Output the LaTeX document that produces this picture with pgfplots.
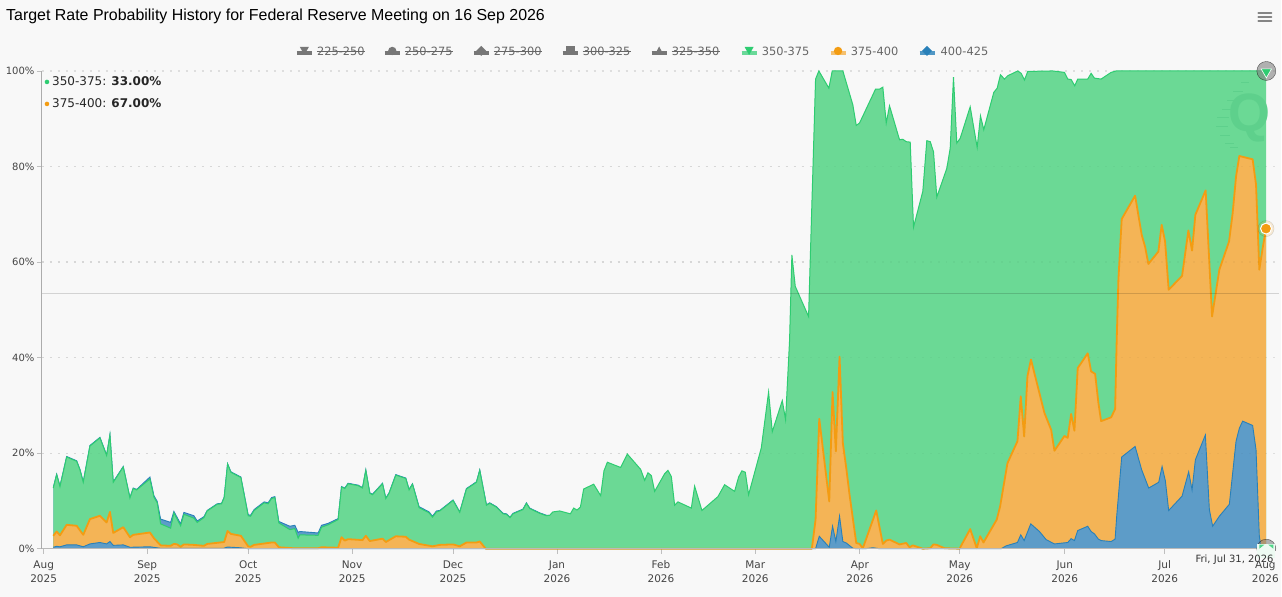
\documentclass[border=0pt]{standalone}
\usepackage{pgfplots}
\usepackage{pgfplotstable}
\usepackage{fontspec}
\pgfplotsset{compat=1.18}
\setmainfont{DejaVu Sans}
\newfontfamily\titlefont{Liberation Sans}
\definecolor{bgc}{HTML}{F8F8F8}
\definecolor{gfill}{RGB}{107,217,149}
\definecolor{gline}{HTML}{2ECC71}
\definecolor{gdark}{RGB}{94,208,140}
\definecolor{ofill}{RGB}{244,180,86}
\definecolor{oline}{HTML}{F39C12}
\definecolor{bfill}{RGB}{93,156,200}
\definecolor{bline}{HTML}{2980B9}
\definecolor{txt}{HTML}{444444}
\definecolor{leg}{HTML}{666666}
\definecolor{dis}{HTML}{777777}
\newcommand{\tl}[2]{\rule{0pt}{9pt}#1\\#2}

% top of the stack (thin hidden band above the green area)
\pgfplotstableread{
x y
53.3 12.8
56.7 15.6
60 13.1
66.7 19.3
76.7 18.4
80 16.6
83.3 14.0
90 21.6
100 23.3
106.7 19.6
110 23.9
113.3 14.0
123.3 17.2
130 10.7
133.3 12.7
136.7 12.4
150 15.0
154 11.1
157.3 9.9
160.7 6.2
170.7 5.5
174 7.8
180.7 5.2
184 7.6
194 6.9
197.3 5.8
204 6.7
207.3 8.0
217.3 9.4
221.7 9.5
224.3 10.8
227.7 17.8
231 16.1
241 15.0
248.3 7.1
250.7 7.0
254.3 8.2
264.3 9.8
268.3 9.6
271.7 10.7
275 10.9
279 5.7
290 4.7
295 4.9
298.3 3.4
300 3.6
318.3 3.3
321.7 4.9
328.3 5.3
338.3 6.3
341.7 13.0
345 12.7
348.3 13.7
358.3 13.3
362.7 12.8
366 16.5
370 11.7
372.7 11.4
382.7 13.7
386 10.6
389.3 11.7
396 15.5
406 14.8
409.3 12.4
412.7 13.6
419.3 8.8
429.3 7.7
432.7 6.8
436.7 7.9
440 8.0
453.3 10.2
460 7.7
466.7 12.6
476.7 14.0
480 16.5
486.7 9.2
490 9.6
496.7 8.8
503.3 7.4
506.7 7.3
510.3 6.6
513.3 7.4
523.3 8.3
526.7 9.6
530 8.5
540 7.5
546.7 7.0
550 7.0
}\toptable

% 350-375 (cumulative top of the green band)
\pgfplotstableread{
x y
53.3 12.7
56.7 15.5
60 13.0
66.7 19.2
76.7 18.3
80 16.5
83.3 13.9
90 21.5
100 23.2
106.7 19.5
110 23.8
113.3 13.9
123.3 17.1
130 10.6
133.3 12.6
136.7 12.3
150 14.6
154 10.8
157.3 9.6
160.7 5.2
170.7 4.3
174 7.5
180.7 4.8
184 7.2
194 6.4
197.3 5.5
204 6.5
207.3 7.9
217.3 9.3
221.7 9.4
224.3 10.7
227.7 17.7
231 16.0
241 14.9
248.3 6.9
250.7 6.8
254.3 8.0
264.3 9.6
268.3 9.4
271.7 10.5
275 10.7
279 5.4
290 4.0
295 4.2
298.3 2.2
300 2.9
318.3 2.8
321.7 4.5
328.3 5.0
338.3 6.1
341.7 12.9
345 12.6
348.3 13.6
358.3 13.2
362.7 12.7
366 16.4
370 11.6
372.7 11.3
382.7 13.6
386 10.5
389.3 11.6
396 15.4
406 14.7
409.3 12.3
412.7 13.5
419.3 8.6
429.3 7.5
432.7 6.6
436.7 7.7
440 7.9
453.3 10.1
460 7.6
466.7 12.5
476.7 13.9
480 16.4
486.7 9.1
490 9.5
496.7 8.7
503.3 7.3
506.7 7.2
510.3 6.5
513.3 7.3
523.3 8.2
526.7 9.5
530 8.4
540 7.4
546.7 6.9
550 7.0
553.3 7.7
560 7.9
570.7 7.3
574 8.5
577.3 8.1
580.7 8.7
584 12.5
594 13.5
601 11.1
604.3 16.3
607.7 18.1
621 17.0
627.7 19.8
641 16.6
645 14.3
648.3 15.9
651.7 15.3
655 12.0
665 15.7
668.3 16.4
671.7 15.1
675 9.1
678.3 9.8
691.7 8.5
695 13.1
702.3 8.0
718.3 10.9
725 13.4
735 12.0
739 15.0
742.3 16.3
745.7 16.0
749 11.3
761.7 21.1
769 32.8
772.7 24.5
782.7 31.0
786 27.0
790 43.7
792.3 61.5
795.7 54.9
809 48.6
816 98.3
819.3 100
829.3 96.4
832.7 100
843.3 100
853.3 92.9
856.7 88.6
860 89.1
876 96.2
880 96.2
883.3 96.6
886.7 89.1
890 92.7
900 85.6
903.3 85.7
906.7 85.2
910.7 85.1
914 67.3
923.3 74.8
927.3 85.4
930.7 85.2
934 83.1
937.3 73.6
947.3 79.6
950.7 83.8
954 98.7
957.3 84.9
960.7 85.9
970.7 92.5
977.7 84.0
981 90.6
984.3 87.7
994.3 95.5
997.7 96.4
1001 99.2
1005 98.3
1008.3 99.0
1018.3 100
1021.7 99.5
1025 98.1
1028.3 99.9
1053.3 100
1065 99.7
1068.3 98.3
1071.7 98.2
1075.3 96.9
1078.3 98.3
1088.3 98.3
1091.7 99.5
1095 98.5
1101.7 98.3
1111.7 99.7
1116.7 100
1266.7 100
}\greentable

% 375-400 (cumulative top of the orange band)
\pgfplotstableread{
x y
53.3 2.7
56.7 3.6
60 2.8
66.7 5.0
76.7 4.8
83.3 2.9
90 6.2
100 6.9
106.7 5.5
110 7.7
113.3 3.3
123.3 4.5
130 2.4
133.3 2.9
150 3.4
154 2.2
160.7 0.7
170.7 0.6
174 1.0
177.3 0.9
180.7 0.4
184 0.9
194 0.8
204 0.6
207.3 1.0
224.3 1.4
227.7 3.7
231 3.1
241 2.7
248.3 0.5
250.7 0.4
254.3 0.8
271.7 1.3
275 1.3
279 0.3
293.3 0.1
318.3 0.1
321.7 0.3
338.3 0.2
341.7 2.4
345 1.7
348.3 2.0
362.7 1.8
366 2.7
370 1.6
382.7 2.1
386 1.4
396 2.6
406 2.5
409.3 1.9
419.3 1.0
432.7 0.5
440 0.8
453.3 0.9
460 0.5
466.7 1.3
476.7 1.3
480 1.5
486 0
812.3 0
816 6.1
819.7 27.2
829.7 9.9
833 32.8
836.3 20.4
840 40.2
843.3 22.1
846.7 16.9
850 11.3
856.7 1.2
860 1.0
863.3 0.1
876.7 8.0
883.3 1.0
886.7 1.7
890 1.9
900 0.9
906.7 1.2
910 0.3
913.3 0.7
923.3 0
930.7 0.1
934 0.9
937.3 0.8
945 0.1
960 0
970.7 4.1
977.3 0.1
980.7 2.6
984 1.3
997.3 6.1
1000.7 8.9
1004 13.0
1008 17.9
1018 22.5
1021.3 31.9
1024.7 23.5
1028 36.1
1031.5 39.6
1045 28.4
1051.7 24.9
1055 20.5
1065 23.6
1068.3 23.2
1071.7 28.2
1075 24.7
1078.3 37.8
1088.3 40.9
1091.7 37.1
1095.7 36.6
1099 30.5
1101.7 26.7
1111.7 27.5
1115.7 29.2
1117.3 43.7
1119 56.3
1122.3 69.0
1135.7 73.9
1142.3 65.7
1145.7 63.2
1149 59.6
1159 62.2
1162.3 67.8
1165.7 64.3
1169.3 54.2
1182.7 57.1
1189 66.6
1192.7 62.4
1196 69.9
1206.3 75.0
1212.7 48.6
1220 58.4
1229.7 64.3
1233.3 70.2
1236.7 77.9
1240 82.2
1253.3 81.5
1256.7 76.2
1260 58.4
1263.3 62.9
1266.7 67.0
}\orangetable

% 400-425 (bottom band)
\pgfplotstableread{
x y
53.3 0.3
56.7 0.5
60 0.4
66.7 0.8
76.7 0.8
83.3 0.4
90 1.0
100 1.3
106.7 1.0
110 1.5
113.3 0.7
123.3 0.8
130 0.3
150 0.4
160 0.1
224 0.1
227.7 0.35
240 0.2
248.3 0
816 0
819.7 2.6
829.7 0.3
833 4.7
836.3 1.5
840 6.8
843.3 1.5
846.7 1.2
853.3 0.1
856.7 0
866 0
873.3 0.2
880 0
1001.7 0
1006.7 0.6
1018 1.3
1021.3 2.9
1024.7 1.7
1031.3 5.2
1040 3.6
1046.7 1.9
1055 1.0
1068.3 1.3
1071.7 2.1
1075 1.7
1078.3 3.8
1088.3 4.7
1091.7 3.6
1095 3.1
1099 2.0
1101.7 1.7
1111.7 1.5
1115.7 2.0
1117.3 6.8
1122.3 19.2
1135.7 21.4
1142.3 16.5
1149.3 12.7
1159.3 13.9
1162.7 17.2
1166 14.2
1169.3 8.0
1182.7 11.0
1189.3 16.1
1192.7 12.3
1196 18.6
1206 23.8
1210 8.2
1213.3 4.7
1220 6.8
1230 9.3
1236.7 22.5
1240 25.2
1243.3 26.7
1253.3 25.8
1256.7 20.7
1260 2.6
1262 0
1266.7 0
}\bluetable

\begin{document}
\begin{tikzpicture}[x=1pt,y=1pt]
\fill[bgc] (0,0) rectangle (1282,597);
\begin{axis}[
  at={(42pt,48pt)}, anchor=south west,
  scale only axis, width=1238pt, height=478pt,
  xmin=42, xmax=1280, ymin=0, ymax=100,
  clip=false,
  axis line style={draw=none},
  xtick={43.7,147.3,248.3,352.3,453.3,557.3,661.3,755.7,860.3,960.3,1065.3,1165.3,1266},
  xticklabels={{\tl{Aug}{2025}},{\tl{Sep}{2025}},{\tl{Oct}{2025}},{\tl{Nov}{2025}},{\tl{Dec}{2025}},{\tl{Jan}{2026}},{\tl{Feb}{2026}},{\tl{Mar}{2026}},{\tl{Apr}{2026}},{\tl{May}{2026}},{\tl{Jun}{2026}},{\tl{Jul}{2026}},{\tl{Aug}{2026}}},
  xticklabel style={align=center,font=\fontsize{10.5}{14}\selectfont,text=txt,yshift=-2pt},
  ytick={0,20,40,60,80,100},
  yticklabels={0\%,20\%,40\%,60\%,80\%,100\%},
  yticklabel style={font=\fontsize{10}{12}\selectfont,text=txt,xshift=1pt},
  tick style={draw=gray!50,line width=0.7pt},
  major tick length=5pt,
  tick align=outside,
  xtick pos=bottom, ytick pos=left,
]
% background rules
\addplot[forget plot,draw=black!13,dash pattern=on 2pt off 6pt,line width=1.2pt] coordinates {(42,80)(1280,80)};
\addplot[forget plot,draw=black!13,dash pattern=on 2pt off 6pt,line width=1.2pt] coordinates {(42,60)(1280,60)};
\addplot[forget plot,draw=black!13,dash pattern=on 2pt off 6pt,line width=1.2pt] coordinates {(42,40)(1280,40)};
\addplot[forget plot,draw=black!13,dash pattern=on 2pt off 6pt,line width=1.2pt] coordinates {(42,20)(1280,20)};
\addplot[forget plot,draw=black!13,dash pattern=on 2pt off 6pt,line width=1.2pt] coordinates {(42,100)(1280,100)};
% areas
\addplot[forget plot,fill=bfill,draw=none] table[x=x,y=y] {\toptable} \closedcycle;
\addplot[forget plot,draw=bline,line width=0.9pt] table[x=x,y=y] {\toptable};
\addplot[forget plot,fill=gfill,draw=none] table[x=x,y=y] {\greentable} \closedcycle;
\addplot[forget plot,draw=gline,line width=1pt] table[x=x,y=y] {\greentable};
\addplot[forget plot,fill=ofill,draw=none] table[x=x,y=y] {\orangetable} \closedcycle;
\addplot[forget plot,draw=oline,line width=1.8pt,line join=round] table[x=x,y=y] {\orangetable};
\addplot[forget plot,fill=bfill,draw=none] table[x=x,y=y] {\bluetable} \closedcycle;
\addplot[forget plot,draw=bline,line width=0.9pt] table[x=x,y=y] {\bluetable};
% faint rules over the areas
\addplot[forget plot,draw=black,opacity=0.03,dash pattern=on 2pt off 6pt,line width=1.2pt] coordinates {(42,80)(1267,80)};
\addplot[forget plot,draw=black,opacity=0.03,dash pattern=on 2pt off 6pt,line width=1.2pt] coordinates {(42,60)(1267,60)};
\addplot[forget plot,draw=black,opacity=0.03,dash pattern=on 2pt off 6pt,line width=1.2pt] coordinates {(42,40)(1267,40)};
\addplot[forget plot,draw=black,opacity=0.03,dash pattern=on 2pt off 6pt,line width=1.2pt] coordinates {(42,20)(1267,20)};
% axes and crosshair
\addplot[forget plot,draw=black,opacity=0.15,line width=1pt] coordinates {(42,53.4)(1280,53.4)};
\addplot[forget plot,draw=gray!65,line width=1pt] coordinates {(42,0)(42,100)};
\addplot[forget plot,draw=gray!55,line width=1pt] coordinates {(42,0)(1267,0)};
% hover marker and range handles
\addplot[forget plot,only marks,mark=*,mark size=8pt,mark options={draw=none,fill=oline,opacity=0.15}] coordinates {(1266.7,67)};
\addplot[forget plot,only marks,mark=*,mark size=5.5pt,mark options={draw=white,line width=1pt,fill=oline}] coordinates {(1266.7,67)};
\addplot[forget plot,only marks,mark=*,mark size=9.5pt,mark options={draw=none,fill=gray,opacity=0.6}] coordinates {(1267,100)};
\addplot[forget plot,only marks,mark=*,mark size=9.5pt,mark options={draw=none,fill=gray,opacity=0.6}] coordinates {(1267,0)};
\addplot[forget plot,only marks,mark=triangle*,mark size=6pt,mark options={draw=white,line width=0.6pt,fill=gline,rotate=180}] coordinates {(1267,99.8)};
\end{axis}

% tooltip date over the last tick label
\fill[bgc] (1192,597-561) rectangle (1282,597-551);
\fill[white!88!gfill] (1258,597-558) rectangle (1276,597-544);
\fill[gline,opacity=0.8] (1260,597-545) -- (1265,597-545) -- (1260,597-549) -- cycle;
\fill[gline,opacity=0.8] (1274,597-545) -- (1269,597-545) -- (1274,597-549) -- cycle;
\node[anchor=base west,inner sep=0pt,font=\fontsize{10}{12}\selectfont,text=black!80] at (1196,597-563) {Fri, Jul 31, 2026};

% title
\node[anchor=base west,inner sep=0pt,font=\titlefont\fontsize{15.95}{18}\selectfont,text=black] at (6,597-21) {Target Rate Probability History for Federal Reserve Meeting on 16 Sep 2026};

% menu
\foreach \yy in {13,17,21} \draw[dis!90,line width=2pt,line cap=round] (1259,597-\yy) -- (1272,597-\yy);

% legend
\foreach \xx/\lab in {297/225-250,385/250-275,474/275-300,563/300-325,652/325-350}{
  \draw[dis,line width=3.4pt] (\xx,597-53) -- (\xx+15,597-53);
  \node[anchor=base west,inner sep=0pt,font=\fontsize{11.4}{12}\selectfont,text=leg] (t) at (\xx+20,597-55.5) {\lab};
  \draw[leg,line width=0.7pt] (t.west |- 0,597-51.5) -- (t.east |- 0,597-51.5);
}
\fill[dis] (297+3,597-47) -- (297+12,597-47) -- (297+7.5,597-55) -- cycle;
\fill[dis] (385+7.5,597-51) circle (4.2);
\fill[dis] (474+7.5,597-46) -- (474+12.5,597-51) -- (474+7.5,597-56) -- (474+2.5,597-51) -- cycle;
\fill[dis] (563+3,597-46.5) rectangle (563+12,597-55);
\fill[dis] (652+3,597-55) -- (652+12,597-55) -- (652+7.5,597-46.5) -- cycle;

\draw[gline,opacity=0.7,line width=3.4pt] (742,597-53) -- (757,597-53);
\fill[gline] (742+3,597-47) -- (742+12,597-47) -- (742+7.5,597-55) -- cycle;
\node[anchor=base west,inner sep=0pt,font=\fontsize{11.4}{12}\selectfont,text=leg] at (762,597-55.5) {350-375};
\draw[oline,opacity=0.6,line width=3.4pt] (831,597-53) -- (846,597-53);
\fill[oline] (831+7.5,597-51) circle (4.2);
\node[anchor=base west,inner sep=0pt,font=\fontsize{11.4}{12}\selectfont,text=leg] at (851,597-55.5) {375-400};
\draw[bline,opacity=0.8,line width=3.4pt] (920,597-53) -- (935,597-53);
\fill[bline] (920+7.5,597-46) -- (920+12.5,597-51) -- (920+7.5,597-56) -- (920+2.5,597-51) -- cycle;
\node[anchor=base west,inner sep=0pt,font=\fontsize{11.4}{12}\selectfont,text=leg] at (941,597-55.5) {400-425};

% tooltip block
\fill[gline] (47,597-82) circle (2.3);
\node[anchor=base west,inner sep=0pt,font=\fontsize{12}{14}\selectfont,text=black!85] at (52,597-86) {350-375: \textbf{33.00\%}};
\fill[oline] (47,597-104) circle (2.3);
\node[anchor=base west,inner sep=0pt,font=\fontsize{12}{14}\selectfont,text=black!85] at (52,597-108) {375-400: \textbf{67.00\%}};

% watermark
\node[anchor=center,inner sep=0pt,font=\titlefont\bfseries\fontsize{54}{54}\selectfont,text=gdark] at (1250,597-118) {Q};
\foreach \xa/\xb/\yy in {1242/1250/83,1234/1244/92,1228/1236/101,1223/1232/110,1218/1230/118,1217/1229/127,1221/1231/136,1226/1235/144,1231/1239/148}
  \draw[gdark,line width=1pt] (\xa,597-\yy) -- (\xb,597-\yy);
\end{tikzpicture}
\end{document}
